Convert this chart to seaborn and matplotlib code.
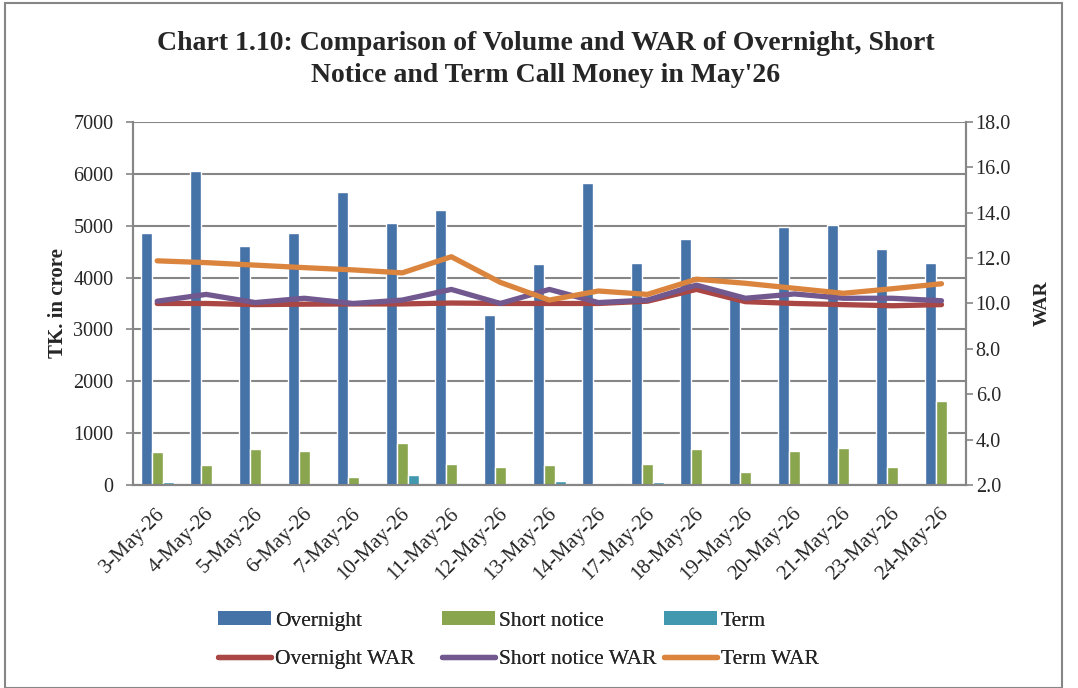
import numpy as np
import pandas as pd
import matplotlib
matplotlib.use("Agg")
import matplotlib.pyplot as plt
import matplotlib.transforms as mtransforms
from matplotlib.lines import Line2D
from matplotlib.patches import Patch, Rectangle
import seaborn as sns

dates = ["3-May-26", "4-May-26", "5-May-26", "6-May-26", "7-May-26", "10-May-26",
         "11-May-26", "12-May-26", "13-May-26", "14-May-26", "17-May-26", "18-May-26",
         "19-May-26", "20-May-26", "21-May-26", "23-May-26", "24-May-26"]

overnight = [4860, 6060, 4610, 4860, 5650, 5060, 5300, 3270, 4260, 5830,
             4290, 4740, 3600, 4980, 5020, 4560, 4280]
short_notice = [640, 380, 690, 660, 150, 810, 410, 350, 390, 40,
                410, 690, 250, 650, 710, 350, 1610]
term = [60, 0, 0, 0, 0, 200, 0, 20, 80, 45,
        60, 45, 0, 0, 20, 0, 45]

overnight_war = [10.0, 10.0, 9.95, 9.97, 9.98, 9.98, 10.02, 10.0, 10.0, 10.0,
                 10.1, 10.62, 10.08, 10.0, 9.95, 9.9, 9.95]
short_war = [10.1, 10.4, 10.04, 10.23, 10.0, 10.15, 10.62, 10.0, 10.62, 10.04,
             10.15, 10.81, 10.23, 10.42, 10.23, 10.23, 10.12]
term_war = [11.88, 11.8, 11.69, 11.58, 11.48, 11.35, 12.06, 10.93, 10.15, 10.55,
            10.4, 11.07, 10.89, 10.67, 10.45, 10.65, 10.87]

series = ["Overnight", "Short notice", "Term"]
bar_colors = ["#4572A7", "#89A54E", "#4198AF"]
war_names = ["Overnight WAR", "Short notice WAR", "Term WAR"]
war_colors = ["#AA4643", "#71588F", "#DB843D"]

df = pd.DataFrame({
    "date": dates * 3,
    "series": np.repeat(series, len(dates)),
    "volume": overnight + short_notice + term,
})

sns.set_style("white")
plt.rcParams["font.family"] = ["Liberation Serif", "DejaVu Serif"]

fig = plt.figure(figsize=(10.78, 6.88), dpi=100)
ax = fig.add_axes([0.1231, 0.2951, 0.7730, 0.5276])

sns.barplot(data=df, x="date", y="volume", hue="series", order=dates,
            hue_order=series, palette=bar_colors, width=0.67, gap=0,
            saturation=1, errorbar=None, legend=False, ax=ax)

ax.set_ylim(0, 7000)
ax.set_yticks(range(0, 7001, 1000))
ax.set_xlim(-0.5, len(dates) - 0.5)
ax.grid(axis="y", color="#868686", linewidth=1.5)
ax.set_axisbelow(True)
ax.set_xlabel("")
ax.set_ylabel("TK. in crore", fontsize=15, fontweight="bold", labelpad=4)
ax.tick_params(axis="y", labelsize=14.5, length=5, color="#868686", width=1.2, pad=9)
ax.set_xticks(range(len(dates)))
ax.set_xticklabels(dates, rotation=45, ha="right", rotation_mode="anchor", fontsize=15)
ax.tick_params(axis="x", length=0, pad=14)
# small horizontal nudge of the date labels, as in the original
shift = mtransforms.ScaledTranslation(-2 / 100, 0, fig.dpi_scale_trans)
for lbl in ax.get_xticklabels():
    lbl.set_transform(lbl.get_transform() + shift)
ax.set_xticks(np.arange(-0.5, len(dates), 1), minor=True)
ax.tick_params(axis="x", which="minor", length=6, color="#868686", width=1.2)
for s in ["left", "bottom", "right", "top"]:
    ax.spines[s].set_color("#868686")
    ax.spines[s].set_linewidth(1.5)
ax.spines["top"].set_visible(False)

ax2 = ax.twinx()
xs = np.arange(len(dates))
for vals, name, col in zip([overnight_war, short_war, term_war], war_names, war_colors):
    sns.lineplot(x=xs, y=vals, color=col, linewidth=3.8, ax=ax2,
                 solid_capstyle="round", legend=False)
ax2.set_ylim(2.0, 18.0)
ax2.set_yticks(np.arange(2.0, 18.01, 2.0))
ax2.set_yticklabels([f"{v:.1f}" for v in np.arange(2.0, 18.01, 2.0)])
ax2.tick_params(axis="y", labelsize=14.5, length=5, color="#868686", width=1.2, pad=2)
ax2.set_ylabel("WAR", fontsize=14, fontweight="bold", rotation=90, labelpad=16)
for s in ["left", "bottom", "right", "top"]:
    ax2.spines[s].set_color("#868686")
    ax2.spines[s].set_linewidth(1.5)
ax2.spines["top"].set_visible(False)

fig.text(0.506, 0.913, "Chart 1.10: Comparison of Volume and WAR of Overnight, Short\n"
         "Notice and Term Call Money in May'26", ha="center", va="center",
         fontsize=20, fontweight="bold", linespacing=1.36)

bar_handles = [Patch(facecolor=c, edgecolor="none") for c in bar_colors]
line_handles = [Line2D([0], [0], color=c, linewidth=3.8, solid_capstyle="round")
                for c in war_colors]
# one small legend per column so the columns sit where they do in the original
col_x = [218, 442, 664]
for i in range(3):
    leg = fig.legend([bar_handles[i], line_handles[i]], [series[i], war_names[i]],
                     loc="center left", bbox_to_anchor=(col_x[i] / 1078, 1 - 640 / 688),
                     frameon=False, fontsize=15.5, handlelength=2.45, handleheight=0.65,
                     handletextpad=0.2, labelspacing=0.85, borderpad=0, borderaxespad=0)
    fig.add_artist(leg)

fig.patches.append(Rectangle((5 / 1078, 0), 1057 / 1078, 1 - 3 / 688,
                             transform=fig.transFigure, fill=False,
                             edgecolor="#868686", linewidth=1.5))

fig.savefig("out.png", dpi=100)
